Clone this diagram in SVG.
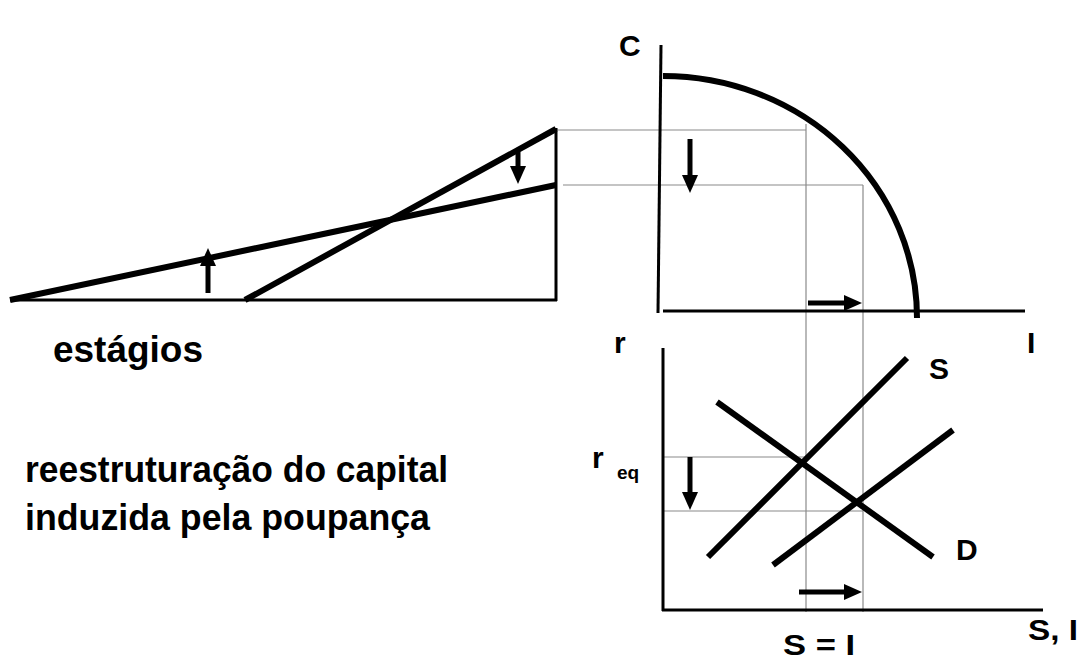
<svg xmlns="http://www.w3.org/2000/svg" width="1082" height="661" viewBox="0 0 1082 661">
<style>
.t{font-family:"Liberation Sans",Arial,sans-serif;font-weight:bold;fill:#000}
.thin{stroke:#8a8a8a;stroke-width:1.2;fill:none}
.ax{stroke:#000;stroke-width:3;fill:none}
.thick{stroke:#000;stroke-width:6;fill:none}
.arr{stroke:#000;stroke-width:5;fill:none;marker-end:url(#ah)}
</style>
<defs>
<marker id="ah" markerUnits="userSpaceOnUse" markerWidth="20" markerHeight="18" refX="4" refY="8" orient="auto"><path d="M0,0 L18,8 L0,16 z" fill="#000"/></marker>
</defs>
<rect width="1082" height="661" fill="#fff"/>
<g id="connectors">
<line class="thin" x1="556" y1="130" x2="806" y2="130"/>
<line class="thin" x1="563" y1="185" x2="863" y2="185"/>
<line class="thin" x1="806" y1="124" x2="806" y2="612"/>
<line class="thin" x1="863" y1="185" x2="863" y2="612"/>
<line class="thin" x1="663" y1="457" x2="806" y2="457"/>
<line class="thin" x1="663" y1="511" x2="863" y2="511"/>
</g>
<g id="stages">
<line class="ax" x1="10" y1="300" x2="557" y2="300"/>
<line class="ax" x1="556" y1="128" x2="556" y2="301"/>
<line class="thick" x1="245" y1="300" x2="556" y2="129"/>
<line class="thick" x1="10" y1="300" x2="556" y2="185"/>
<line class="arr" x1="208" y1="293" x2="208" y2="262"/>
<line class="arr" x1="518" y1="152" x2="518" y2="170"/>
<text class="t" x="53" y="362" font-size="36" textLength="150" lengthAdjust="spacingAndGlyphs">estágios</text>
</g>
<g id="ppf">
<line class="ax" x1="661" y1="45" x2="658" y2="313"/>
<line class="ax" x1="663" y1="311" x2="1025" y2="311"/>
<path class="thick" d="M663,76 A254,242 0 0 1 917,318"/>
<line class="arr" x1="690" y1="139" x2="690" y2="179"/>
<line class="arr" x1="808" y1="303" x2="848" y2="303"/>
<text class="t" x="619" y="56" font-size="30">C</text>
<text class="t" x="614" y="353" font-size="30">r</text>
<text class="t" x="1027" y="353" font-size="30">I</text>
</g>
<g id="loanable-funds">
<line class="ax" x1="663" y1="348" x2="663" y2="611"/>
<line class="ax" x1="662" y1="610" x2="1043" y2="610"/>
<line class="thick" x1="708" y1="557" x2="907" y2="358"/>
<line class="thick" x1="773" y1="565" x2="953" y2="430"/>
<line class="thick" x1="717" y1="402" x2="933" y2="557"/>
<line class="arr" x1="690" y1="457" x2="690" y2="496"/>
<line class="arr" x1="799" y1="592" x2="848" y2="592"/>
<text class="t" x="929" y="379" font-size="30">S</text>
<text class="t" x="956" y="560" font-size="30">D</text>
<text class="t" x="592" y="468" font-size="30">r</text>
<text class="t" x="617" y="479" font-size="19">eq</text>
<text class="t" x="1028" y="640" font-size="30" textLength="50" lengthAdjust="spacingAndGlyphs">S, I</text>
<text class="t" x="783" y="655" font-size="30" textLength="72" lengthAdjust="spacingAndGlyphs">S = I</text>
</g>
<g id="caption">
<text class="t" x="25" y="482" font-size="36" textLength="423" lengthAdjust="spacingAndGlyphs">reestruturação do capital</text>
<text class="t" x="25" y="530" font-size="36" textLength="405" lengthAdjust="spacingAndGlyphs">induzida pela poupança</text>
</g>
</svg>
